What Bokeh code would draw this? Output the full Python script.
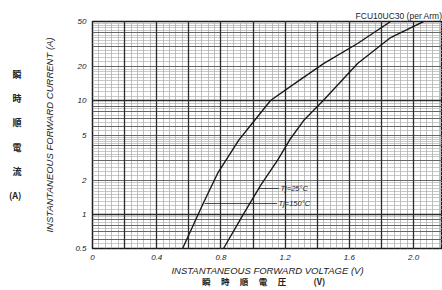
import numpy as np
from bokeh.plotting import figure
from bokeh.models import FixedTicker, Grid, Label, LinearAxis, Title
from bokeh.embed import file_html
from bokeh.resources import INLINE

# Tj = 25°C curve (right)
v_25 = [0.816, 0.941, 1.047, 1.153, 1.234, 1.315, 1.439, 1.651, 1.857, 2.062]
i_25 = [0.5, 1.01, 1.8, 3.0, 4.66, 6.7, 10.1, 21.3, 36.1, 50]
# Tj = 150°C curve (left)
v_150 = [0.561, 0.692, 0.779, 0.910, 0.984, 1.109, 1.234, 1.439, 1.651, 1.857]
i_150 = [0.5, 1.27, 2.29, 4.48, 6.07, 10.07, 13.4, 21.3, 32.0, 50]

x_ticks = [0, 0.4, 0.8, 1.2, 1.6, 2.0]
x_tick_labels = ["0", "0.4", "0.8", "1.2", "1.6", "2.0"]
y_ticks = [0.5, 1, 2, 5, 10, 20, 50]
y_tick_labels = ["0.5", "1", "2", "5", "10", "20", "50"]

W, H = 442, 290
LB, TB, BB = 92, 21, 42

p = figure(width=W, height=H, x_range=(0, 2.18), y_range=(0.5, 50),
           y_axis_type="log", output_backend="svg", toolbar_location=None,
           min_border_left=LB, min_border_right=0, min_border_top=TB,
           min_border_bottom=BB, background_fill_color="white",
           border_fill_color="white")
p.outline_line_color = "#1a1a1a"
p.outline_line_width = 1.5
p.xgrid.visible = False
p.ygrid.visible = False

# graph-paper grid
x_light = [round(v, 2) for v in np.arange(0, 2.21, 0.04)]
x_dark = [round(v, 1) for v in np.arange(0, 2.21, 0.2)]
y_light = []
for dec in [0.1, 1, 10]:
    for lo, hi, st in [(1, 2, 0.1), (2, 5, 0.2), (5, 10, 0.5)]:
        for m in np.arange(lo, hi, st):
            val = round(m * dec, 3)
            if 0.5 <= val <= 50:
                y_light.append(val)
y_mid = [0.6, 0.7, 0.8, 0.9, 2, 3, 4, 5, 6, 7, 8, 9, 20, 30, 40]
y_dark = [0.5, 1, 10, 50]

for ticks, dim, col, w in [(x_light, 0, "#a5a5a5", 0.7), (y_light, 1, "#b0b0b0", 0.7),
                           (y_mid, 1, "#5a5a5a", 0.9),
                           (x_dark, 0, "#2a2a2a", 1.3), (y_dark, 1, "#2a2a2a", 1.3)]:
    g = Grid(dimension=dim, ticker=FixedTicker(ticks=ticks),
             grid_line_color=col, grid_line_width=w)
    p.add_layout(g)

# curves
p.line(v_25, i_25, line_color="#1a1a1a", line_width=1.4)
p.line(v_150, i_150, line_color="#1a1a1a", line_width=1.4)

TXT = "#222222"

# main axes
for ax in (p.xaxis[0], p.yaxis[0]):
    ax.axis_line_color = None
    ax.major_tick_line_color = None
    ax.minor_tick_line_color = None
    ax.major_tick_out = 0
    ax.major_tick_in = 0
    ax.minor_tick_out = 0
    ax.minor_tick_in = 0
    ax.major_label_text_font = "Liberation Sans"
    ax.major_label_text_font_style = "italic"
    ax.major_label_text_font_size = "8px"
    ax.major_label_text_color = TXT
    ax.axis_label_text_font = "Liberation Sans"
    ax.axis_label_text_font_style = "italic"
    ax.axis_label_text_font_size = "9.5px"
    ax.axis_label_text_color = TXT
p.xaxis[0].ticker = FixedTicker(ticks=x_ticks)
p.xaxis[0].major_label_overrides = {t: l for t, l in zip(x_ticks, x_tick_labels)}
p.xaxis[0].major_label_standoff = 6
p.xaxis[0].axis_label = "INSTANTANEOUS FORWARD VOLTAGE (V)"
p.xaxis[0].axis_label_standoff = 2
p.yaxis[0].ticker = FixedTicker(ticks=y_ticks)
p.yaxis[0].major_label_overrides = {t: l for t, l in zip(y_ticks, y_tick_labels)}
p.yaxis[0].major_label_standoff = 6
p.yaxis[0].axis_label = "INSTANTANEOUS FORWARD CURRENT (A)"
p.yaxis[0].axis_label_standoff = 17


def label_axis(text, side, standoff, size, orientation="parallel", line_height=1.2):
    ax = LinearAxis(ticker=FixedTicker(ticks=[]), axis_line_color=None,
                    major_tick_line_color=None, minor_tick_line_color=None,
                    major_tick_out=0, major_tick_in=0, minor_tick_out=0,
                    minor_tick_in=0,
                    major_label_standoff=0, major_label_text_font_size="0px",
                    axis_label=text, axis_label_standoff=standoff,
                    axis_label_orientation=orientation,
                    axis_label_text_font="Noto Sans CJK JP",
                    axis_label_text_font_style="bold",
                    axis_label_text_font_size=size,
                    axis_label_text_line_height=line_height,
                    axis_label_text_color=TXT)
    p.add_layout(ax, side)
    return ax


label_axis("瞬\u3000  時\u3000  順\u3000  電\u3000  圧\u3000\u3000\u3000 (V)", "below", -4,
           "8.5px", line_height=0.9)
label_axis("瞬\n時\n順\n電\n流\n(A)", "left", 20, "9px", orientation="horizontal",
           line_height=1.85)

p.add_layout(Title(text="FCU10UC30 (per Arm)", align="right", standoff=2,
                   text_font="Liberation Sans", text_font_style="normal",
                   text_font_size="8.5px", text_color=TXT), "above")


def lab(text, px, py, size="7.5px"):
    p.add_layout(Label(x=px - LB, y=(H - BB) - py, x_units="screen", y_units="screen",
                       text=text, text_font="Liberation Sans", text_font_style="italic",
                       text_font_size=size, text_baseline="middle", text_color=TXT))


lab("Tj=25°C", 280, 188)
lab("Tj=150°C", 278, 203)

p.segment(x0=[1.035, 0.698], y0=[1.69, 1.246], x1=[1.16, 1.15], y1=[1.69, 1.246],
          line_color="#1a1a1a", line_width=0.8)

open("out.html", "w").write(file_html(p, INLINE))
